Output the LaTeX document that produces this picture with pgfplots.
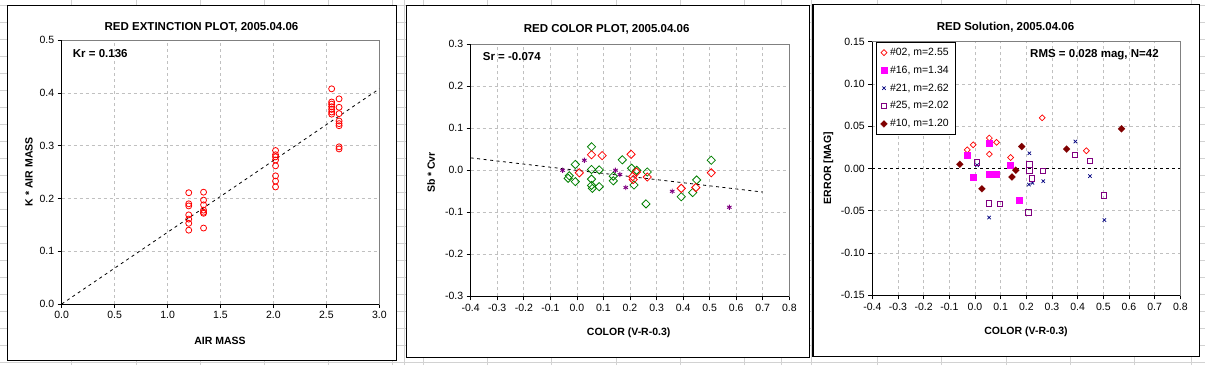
\documentclass[border=0pt]{standalone}
\usepackage{pgfplots}
\pgfplotsset{compat=1.18}
\usepackage{fontspec}
\setmainfont{Liberation Sans}
\usetikzlibrary{plotmarks}
\definecolor{gridc}{RGB}{192,192,192}
\definecolor{cellc}{RGB}{210,210,210}
\definecolor{borderc}{RGB}{128,128,128}
\definecolor{xgreen}{RGB}{0,128,0}
\definecolor{xpurple}{RGB}{128,0,128}
\definecolor{xnavy}{RGB}{0,0,128}
\definecolor{xmaroon}{RGB}{128,0,0}
\definecolor{xmagenta}{RGB}{255,0,255}
\newcommand\fs[1]{\fontsize{#1}{#1}\selectfont}

\pgfplotsset{
  xlchart/.style={
    scale only axis,
    anchor=south west,
    axis line style={borderc, line width=0.8pt},
    tick align=outside,
    tick pos=left,
    major tick length=4pt,
    tick style={black, line width=0.8pt},
    grid=major,
    grid style={gridc, dash pattern=on 3pt off 3pt, line width=0.7pt},
    tick label style={font=\fs{10.5}},
    /pgf/number format/assume math mode=true,
    /pgf/number format/fixed,
    /pgf/number format/fixed zerofill,
    /pgf/number format/precision=1,
    after end axis/.code={\draw[black, line width=0.9pt] (rel axis cs:0,1) -- (rel axis cs:0,0) -- (rel axis cs:1,0);},
  }
}

\begin{document}
\begin{tikzpicture}[x=1pt,y=1pt]
\useasboundingbox (0,0) rectangle (1205,365);
% spreadsheet cell grid
\foreach \yy in {5.5,22.5,...,365} {\draw[cellc, line width=0.8pt] (0,365-\yy) -- (1205,365-\yy);}
\foreach \xx in {71.7,136,200,264.3,328.3,392.7,404.5,423.3,487.7,551.7,616,680,744,781.7,811.7,877.7,941.7,1006,1070,1134.3,1191} {\draw[cellc, line width=0.8pt] (\xx,0) -- (\xx,365);}
% chart frames
\draw[black, line width=1.2pt, fill=white] (7.3,4.7) rectangle (396.3,359.7);
\draw[black, line width=1.2pt, fill=white] (406.3,7.7) rectangle (809.2,359.3);
\draw[black, line width=1.2pt, fill=white] (813,8.3) rectangle (1199.3,360.3);

% ---------------- Panel 1 ----------------
\begin{axis}[xlchart, at={(61.7pt,61pt)}, width=317.6pt, height=263.7pt,
  xmin=0, xmax=3, ymin=0, ymax=0.5,
  xtick={0,0.5,...,3}, ytick={0,0.1,...,0.5}]
\addplot[black, line width=0.8pt, dash pattern=on 3pt off 3.5pt] coordinates {(0,0) (3,0.408)};
\addplot[only marks, mark=o, mark size=3pt, red, mark options={line width=0.8pt}] coordinates {
(1.20,0.211) (1.20,0.190) (1.20,0.186) (1.20,0.169) (1.20,0.161) (1.20,0.153) (1.20,0.140)
(1.34,0.212) (1.34,0.197) (1.34,0.188) (1.34,0.178) (1.34,0.174) (1.34,0.172) (1.34,0.144)
(2.02,0.291) (2.02,0.283) (2.02,0.279) (2.02,0.273) (2.02,0.262) (2.02,0.243) (2.02,0.233) (2.02,0.222)
(2.55,0.408) (2.55,0.383) (2.55,0.379) (2.55,0.374) (2.55,0.369) (2.55,0.364) (2.55,0.360)
(2.62,0.389) (2.62,0.373) (2.62,0.361) (2.62,0.347) (2.62,0.342) (2.62,0.338) (2.62,0.298) (2.62,0.294)
};
\end{axis}
\node[font=\fs{11.5}\bfseries] at (201.5,337.7) {RED EXTINCTION PLOT, 2005.04.06};
\node[font=\fs{11.5}\bfseries, anchor=west, inner sep=0] at (72.7,311.7) {Kr = 0.136};
\node[font=\fs{10.5}\bfseries] at (220,24) {AIR MASS};
\node[font=\fs{10.5}\bfseries, rotate=90] at (29,193.3) {K * AIR MASS};

% ---------------- Panel 2 ----------------
\begin{axis}[xlchart, at={(470.7pt,68.7pt)}, width=318.6pt, height=252pt,
  xmin=-0.4, xmax=0.8, ymin=-0.3, ymax=0.3,
  xtick={-0.4,-0.3,...,0.81}, ytick={-0.3,-0.2,...,0.31}]
\addplot[black, line width=0.8pt, dash pattern=on 3pt off 3.5pt] coordinates {(-0.4,0.0296) (0.7,-0.0518)};
\addplot[only marks, mark=square, mark size=2.9pt, xgreen, mark options={rotate=45, line width=0.8pt}] coordinates {
(0.055,0.056) (-0.006,0.014) (-0.029,-0.013) (-0.033,-0.019) (-0.006,-0.027)
(0.055,0.002) (0.055,-0.021) (0.055,-0.036) (0.058,-0.043) (0.084,0.001)
(0.084,-0.039) (0.171,0.025) (0.137,-0.014) (0.137,-0.025) (0.206,0.005)
(0.225,0.000) (0.215,-0.035) (0.265,-0.004) (0.260,-0.080) (0.393,-0.063)
(0.436,-0.053) (0.451,-0.023) (0.506,0.024)
};
\addplot[only marks, mark=square, mark size=2.9pt, red, mark options={rotate=45, line width=0.8pt}] coordinates {
(0.055,0.037) (0.095,0.035) (0.009,-0.006) (0.204,0.038) (0.210,-0.015)
(0.212,-0.022) (0.224,-0.004) (0.265,-0.016) (0.393,-0.043) (0.448,-0.041) (0.506,-0.006)
};
\addplot[only marks, mark=asterisk, mark size=2.6pt, xpurple, mark options={line width=0.9pt}] coordinates {
(-0.054,0.000) (0.028,0.024) (0.145,0.000) (0.162,-0.010) (0.184,-0.041) (0.359,-0.050) (0.574,-0.088)
};
\end{axis}
\node[font=\fs{11.5}\bfseries] at (606.7,336) {RED COLOR PLOT, 2005.04.06};
\node[font=\fs{11.5}\bfseries, anchor=west, inner sep=0] at (482.7,308.3) {Sr = -0.074};
\node[font=\fs{10.5}\bfseries] at (628.7,32) {COLOR (V-R-0.3)};
\node[font=\fs{10.5}\bfseries, rotate=90] at (431,192.5) {Sb * Cvr};

% ---------------- Panel 3 ----------------
\begin{axis}[xlchart, at={(872.3pt,69.7pt)}, width=308pt, height=253.6pt,
  xmin=-0.4, xmax=0.8, ymin=-0.15, ymax=0.15,
  xtick={-0.4,-0.3,...,0.81}, ytick={-0.15,-0.1,...,0.16},
  yticklabel style={/pgf/number format/precision=2},
  legend cell align=left,
  legend image code/.code={\draw[#1] plot coordinates {(0pt,0pt)};},
  legend style={at={(rel axis cs:0.012,1)}, anchor=north west, draw=black, line width=0.9pt,
    font=\fs{10.5}, row sep=9pt, inner xsep=4pt, inner ysep=6pt,
    nodes={inner xsep=2.5pt, inner ysep=0pt, line width=0.8pt}}]
\addplot[only marks, mark=square, mark size=2.1pt, red, mark options={rotate=45, line width=0.7pt}] coordinates {
(-0.030,0.022) (-0.007,0.028) (0.056,0.036) (0.084,0.031) (0.056,0.017) (0.139,0.013) (0.262,0.060) (0.434,0.021)
};
\addlegendentry{\#02, m=2.55}
\addplot[only marks, mark=square*, mark size=3pt, xmagenta, mark options={line width=0.1pt}] coordinates {
(-0.030,0.016) (-0.007,-0.010) (0.055,0.030) (0.055,-0.007) (0.082,-0.007) (0.136,0.004) (0.171,-0.037)
};
\addlegendentry{\#16, m=1.34}
\addplot[only marks, mark=x, mark size=2.4pt, xnavy, mark options={line width=0.7pt}] coordinates {
(0.008,0.004) (0.055,-0.058) (0.212,0.018) (0.210,-0.019) (0.224,-0.017) (0.266,-0.015) (0.391,0.032) (0.448,-0.009) (0.504,-0.061)
};
\addlegendentry{\#21, m=2.62}
\addplot[only marks, mark=square, mark size=2.8pt, xpurple, mark options={line width=0.8pt}] coordinates {
(0.008,0.007) (0.055,-0.041) (0.097,-0.042) (0.211,0.005) (0.211,-0.002) (0.222,-0.012) (0.207,-0.052) (0.265,-0.003) (0.390,0.016) (0.448,0.009) (0.503,-0.032)
};
\addlegendentry{\#25, m=2.02}
\addplot[only marks, mark=square*, mark size=2.5pt, xmaroon, mark options={rotate=45, line width=0.1pt}] coordinates {
(-0.059,0.005) (0.027,-0.024) (0.144,-0.010) (0.159,-0.002) (0.182,0.026) (0.357,0.023) (0.571,0.047)
};
\addlegendentry{\#10, m=1.20}
\addplot[black, line width=0.8pt, dash pattern=on 3pt off 3pt, forget plot] coordinates {(-0.4,0) (0.8,0)};
\end{axis}
\node[font=\fs{11.5}\bfseries] at (1005.5,337.7) {RED Solution, 2005.04.06};
\node[font=\fs{11.5}\bfseries, anchor=west, inner sep=0] at (1030,310.7) {RMS = 0.028 mag, N=42};
\node[font=\fs{10.5}\bfseries] at (1026,33) {COLOR (V-R-0.3)};
\node[font=\fs{10.5}\bfseries, rotate=90] at (828.3,197) {ERROR [MAG]};
\end{tikzpicture}
\end{document}
